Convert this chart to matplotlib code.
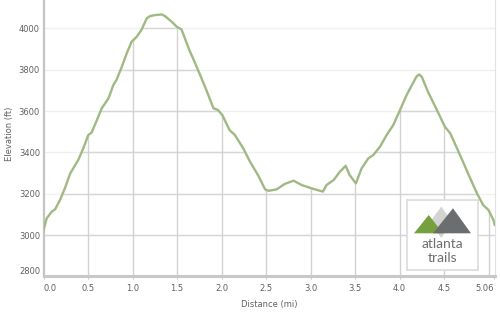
"""
Elevation profile chart with logo
"""
import matplotlib
matplotlib.use('Agg')
import matplotlib.pyplot as plt
from matplotlib.patches import Polygon

#==================
# Data
DIST = [0.0, 0.036, 0.092, 0.13, 0.185, 0.24, 0.30, 0.335, 0.39, 0.447,
        0.503, 0.54, 0.60, 0.654, 0.73, 0.785, 0.82, 0.88, 0.935, 0.99,
        1.047, 1.10, 1.16, 1.197, 1.25, 1.33, 1.365, 1.44, 1.497, 1.55,
        1.646, 1.68, 1.76, 1.83, 1.91, 1.96, 2.01, 2.09, 2.15, 2.245,
        2.32, 2.41, 2.49, 2.53, 2.62, 2.71, 2.81, 2.90, 3.01, 3.14,
        3.18, 3.26, 3.33, 3.395, 3.44, 3.51, 3.575, 3.65, 3.705, 3.78,
        3.856, 3.93, 4.006, 4.08, 4.14, 4.19, 4.22, 4.25, 4.32, 4.42,
        4.51, 4.57, 4.68, 4.77, 4.87, 4.94, 5.0, 5.055, 5.07]
ELEV = [3024, 3081, 3113, 3124, 3169, 3226, 3298, 3323, 3363, 3419,
        3484, 3495, 3556, 3613, 3661, 3726, 3750, 3814, 3879, 3935,
        3959, 3992, 4048, 4059, 4064, 4067, 4059, 4032, 4008, 3995,
        3887, 3855, 3774, 3701, 3613, 3605, 3580, 3508, 3484, 3419,
        3355, 3290, 3221, 3214, 3221, 3247, 3263, 3242, 3226, 3210,
        3242, 3266, 3306, 3335, 3290, 3250, 3323, 3371, 3387, 3427,
        3484, 3532, 3605, 3677, 3726, 3766, 3777, 3766, 3693, 3605,
        3524, 3492, 3387, 3298, 3202, 3145, 3121, 3073, 3049]

X_TICKS = [0.0, 0.5, 1.0, 1.5, 2.0, 2.5, 3.0, 3.5, 4.0, 4.5, 5.06]
X_LABELS = ['0.0', '0.5', '1.0', '1.5', '2.0', '2.5', '3.0', '3.5', '4.0', '4.5', '5.06']
X_GRID = [0.5, 1.0, 1.5, 2.0, 2.5, 3.0, 3.5, 4.0, 4.5, 5.0]
Y_TICKS = [2800, 3000, 3200, 3400, 3600, 3800, 4000]

LINE_COLOR = '#a0b983'
TEXT_COLOR = '#606060'

FIG = plt.figure(figsize=(5.0, 3.21), dpi=100)
AX = FIG.add_axes([0.087, 0.139, 0.903, 0.861])
X_MAX = 5.073
AX.set_xlim(0, X_MAX)
AX.set_ylim(2800, 4137)

# faint grid everywhere
for yv in Y_TICKS[1:]:
    AX.axhline(yv, color='#f0f0f0', lw=1, zorder=1)

# darker grid only below the profile
AREA = AX.fill_between(DIST, ELEV, 2800, color='none', lw=0)
CLIP = AREA.get_paths()[0]
for yv in Y_TICKS[1:]:
    ln = AX.axhline(yv, color='#d6d6d6', lw=1, zorder=2)
    ln.set_clip_path(CLIP, AX.transData)
for xv in X_GRID:
    ln = AX.axvline(xv, color='#d2d2d2', lw=1, zorder=2)
    ln.set_clip_path(CLIP, AX.transData)

AX.plot(DIST, ELEV, color=LINE_COLOR, lw=1.7, zorder=4, solid_joinstyle='round')

# axes frame
AX.spines['top'].set_visible(False)
AX.spines['right'].set_color('#e2e2e2')
AX.spines['right'].set_linewidth(0.8)
AX.spines['left'].set_color('#c4c4c4')
AX.spines['left'].set_linewidth(1.6)
AX.spines['bottom'].set_color('#c8c8c8')
AX.spines['bottom'].set_linewidth(2.2)

AX.set_xticks(X_TICKS)
AX.set_xticklabels(X_LABELS)
AX.set_yticks(Y_TICKS)
AX.tick_params(axis='x', length=2.5, width=0.8, color='#c8c8c8', pad=3,
               labelsize=6, labelcolor=TEXT_COLOR)
AX.tick_params(axis='y', length=0, pad=2.5, labelsize=6, labelcolor=TEXT_COLOR)
XL = AX.get_xticklabels()
XL[0].set_horizontalalignment('left')
XL[-1].set_horizontalalignment('right')
YL = AX.get_yticklabels()
YL[0].set_verticalalignment('bottom')

AX.set_xlabel('Distance (mi)', fontsize=6, color=TEXT_COLOR, labelpad=5)
FIG.text(0.02, 1 - 134 / 321, 'Elevation (ft)', rotation=90, fontsize=6,
         color=TEXT_COLOR, ha='center', va='center')

#==================
# logo box, drawn in pixel units
LOGO = FIG.add_axes([407 / 500, 1 - 270 / 321, 71 / 500, 70 / 321])
LOGO.set_xlim(407, 478)
LOGO.set_ylim(270, 200)
LOGO.set_xticks([])
LOGO.set_yticks([])
LOGO.set_facecolor('white')
for s in LOGO.spines.values():
    s.set_color('#dcdcdc')
    s.set_linewidth(1.2)
LOGO.add_patch(Polygon([(441.3, 206.5), (452, 222), (441.3, 238), (430, 222)],
                       color='#d3d3d3', lw=0))
LOGO.add_patch(Polygon([(414, 233.3), (428.7, 215), (443, 233.3)],
                       color='#76a03e', lw=0))
LOGO.add_patch(Polygon([(433, 233.3), (453, 208.3), (471, 233.3)],
                       color='#6b6d6e', lw=0))
LOGO.text(442, 244.5, 'atlanta', family='Lato', fontsize=10, color='#6d6e70',
          ha='center', va='center')
LOGO.text(442.5, 257.5, 'trails', family='Lato', fontsize=10, color='#6d6e70',
          ha='center', va='center')

FIG.savefig('out.png', dpi=100)
